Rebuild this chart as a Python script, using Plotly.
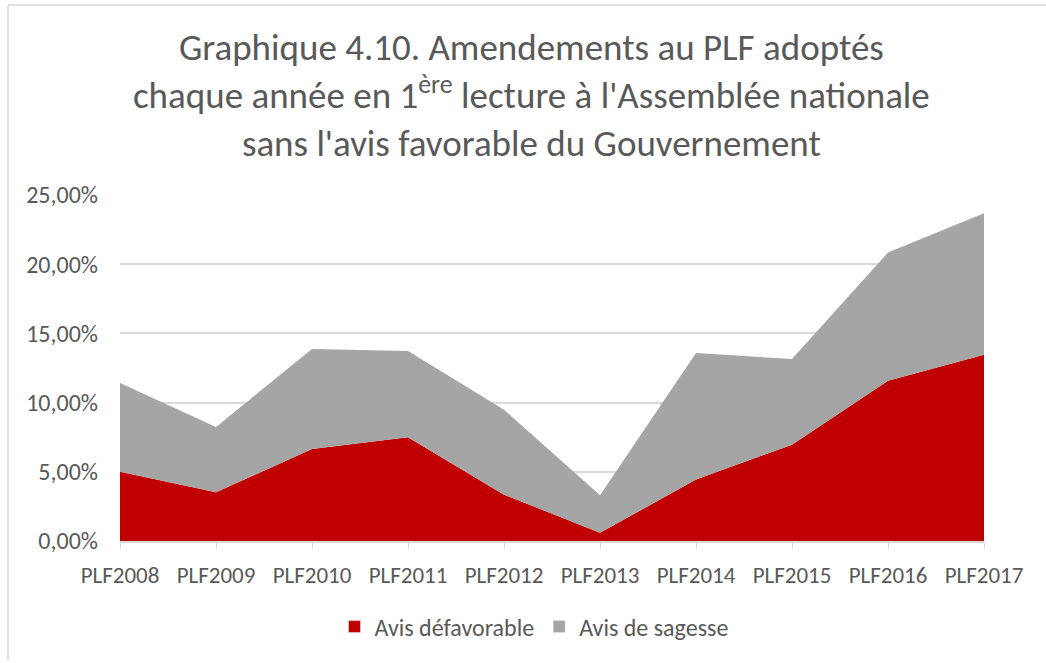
import plotly.graph_objects as go

categories = ["PLF2008", "PLF2009", "PLF2010", "PLF2011", "PLF2012",
              "PLF2013", "PLF2014", "PLF2015", "PLF2016", "PLF2017"]
avis_defavorable = [0.0501, 0.0352, 0.0665, 0.0749, 0.0335,
                    0.0059, 0.0444, 0.0696, 0.1158, 0.1346]
total_sans_avis = [0.1141, 0.0824, 0.1387, 0.1372, 0.0949,
                   0.0330, 0.1358, 0.1315, 0.2084, 0.2368]
avis_sagesse = [round(t - d, 4) for t, d in zip(total_sans_avis, avis_defavorable)]
y_ticks = [0, 0.05, 0.10, 0.15, 0.20, 0.25]
series_names = ["Avis défavorable", "Avis de sagesse"]
series_colors = ["#C00000", "#A5A5A5"]

FONT = "Carlito, Lato, sans-serif"
TXT = "#595959"
W, H = 1046, 663
L, R, T, B = 120, 984, 195, 541

x = list(range(len(categories)))

fig = go.Figure()
for name, vals, col in zip(series_names, [avis_defavorable, avis_sagesse], series_colors):
    fig.add_trace(go.Scatter(
        x=x, y=vals, name=name, stackgroup="one", showlegend=False,
        mode="lines", line=dict(width=0, color=col), fillcolor=col,
        hovertemplate="%{y:.2%}<extra>" + name + "</extra>"))
# legend-only entries with square swatches
for name, col in zip(series_names, series_colors):
    fig.add_trace(go.Bar(x=[None], y=[None], name=name, marker_color=col,
                         showlegend=True, hoverinfo="skip"))

def px(v):
    return (v - L) / (R - L)

def py(v):
    return (B - v) / (B - T)

fig.update_layout(
    width=W, height=H,
    margin=dict(l=L, r=W - R, t=T, b=H - B),
    paper_bgcolor="white", plot_bgcolor="white",
    separators=", ",
    font=dict(family=FONT, color=TXT, size=23),
    title=dict(
        text="Graphique 4.10. Amendements au PLF adoptés<br>"
             "chaque année en 1<sup>ère</sup> lecture à l'Assemblée nationale<br>"
             "sans l'avis favorable du Gouvernement",
        x=0.508, xanchor="center", xref="container",
        y=1 - 60 / H, yanchor="top", yref="container",
        font=dict(family=FONT, size=37, color=TXT)),
    xaxis=dict(
        range=[0, len(categories) - 1], tickmode="array", tickvals=x,
        ticktext=categories, showgrid=False, zeroline=False,
        showline=True, linecolor="#D9D9D9", linewidth=1.5,
        ticks="outside", ticklen=6, tickcolor="#D9D9D9",
        ticklabelstandoff=7, fixedrange=True,
        tickfont=dict(family=FONT, size=23, color=TXT)),
    yaxis=dict(
        range=[0, 0.25], tickmode="array", tickvals=y_ticks,
        tickformat=".2%", showgrid=True, gridcolor="#D9D9D9", gridwidth=1.5,
        zeroline=False, showline=False, ticks="",
        ticklabelstandoff=21, fixedrange=True,
        tickfont=dict(family=FONT, size=24, color=TXT)),
    legend=dict(
        orientation="h", x=px(534), xanchor="center",
        y=py(627), yanchor="middle",
        font=dict(family=FONT, size=24, color=TXT),
        traceorder="normal"),
    showlegend=True,
    shapes=[
        dict(type="line", xref="paper", yref="paper",
             x0=px(8), x1=px(8), y0=py(5), y1=py(660),
             line=dict(color="#D9D9D9", width=1.5)),
        dict(type="line", xref="paper", yref="paper",
             x0=px(8), x1=px(1046), y0=py(5), y1=py(5),
             line=dict(color="#D9D9D9", width=1.5)),
    ],
)

fig.write_html("out.html", config={"displayModeBar": False},
               post_script="document.body.style.margin='0';document.body.style.padding='0';")
